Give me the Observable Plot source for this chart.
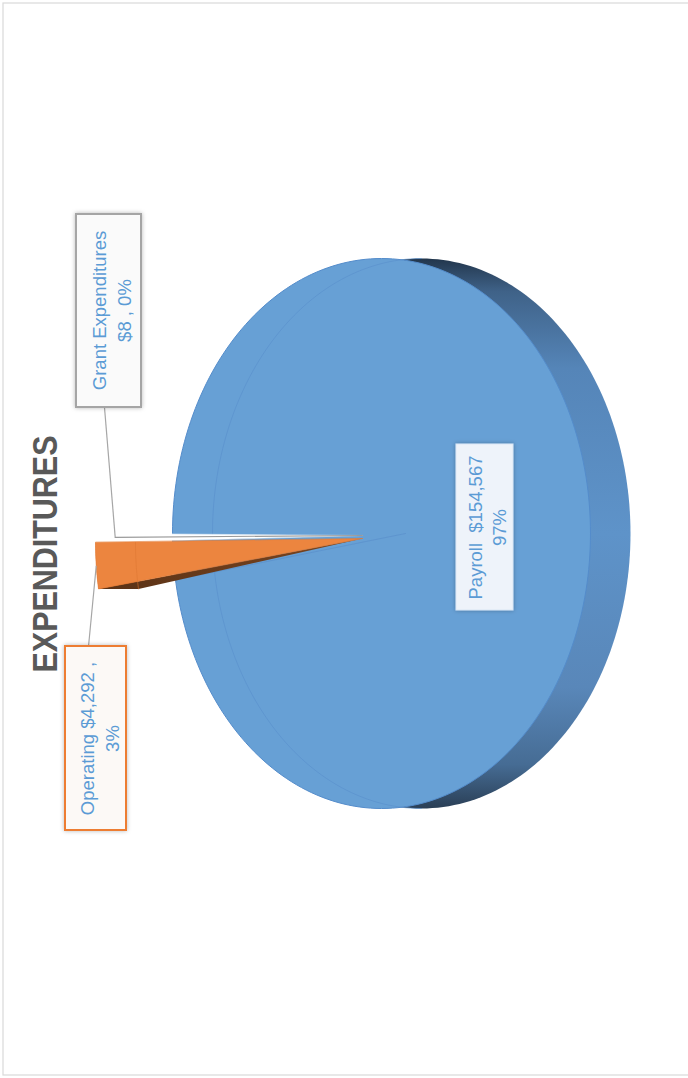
<!DOCTYPE html>
<html>
<head>
<meta charset="utf-8">
<script src="https://cdn.jsdelivr.net/npm/d3@7"></script>
<script src="https://cdn.jsdelivr.net/npm/@observablehq/plot@0.6"></script>
<style>
  html, body { margin: 0; padding: 0; background: #fff; overflow: hidden; }
  #chart svg { display: block; overflow: hidden; }
</style>
</head>
<body>
<div id="chart"></div>
<script>
// ---------------- DATA ----------------
const title = "EXPENDITURES";
const categories = ["Operating", "Grant Expenditures", "Payroll"];
const amounts = [4292, 8, 154567];
const labelLine1 = ["Operating $4,292 ,", "Grant Expenditures", "Payroll  $154,567"];
const labelLine2 = ["3%", "$8 , 0%", "97%"];

// ---------------- LAYOUT / STYLE ----------------
const W = 688, H = 1078;
const C = [381, 533];          // ellipse centre of the pie face
const V = [405, 533];          // apex of the slices on the face
const RX = 209, RY = 275, DEPTH = 40;
const explodeArc  = {"Operating": [-77, 9], "Grant Expenditures": [-75, 0], "Payroll": [0, 0]};
const explodeApex = {"Operating": [-43, 5], "Grant Expenditures": [-43, 2], "Payroll": [0, 0]};
const boxes = [
  {x1: 65, x2: 126, y1: 646, y2: 830, stroke: "#ed7d31", fill: "#fcf9f6", sw: 2, tx: 98,  ty: 738, from: [88, 646]},
  {x1: 76, x2: 141, y1: 214, y2: 407, stroke: "#a5a5a5", fill: "#fafafa", sw: 2, tx: 110, ty: 310, from: [104, 407]},
  {x1: 456, x2: 513, y1: 444, y2: 610, stroke: "#dbe7f5", fill: "#eef3fa", sw: 1, tx: 485.5, ty: 527, from: null}
];

// ---------------- GEOMETRY (from data) ----------------
const total = d3.sum(amounts);
const start = Math.PI - 2 * Math.PI * amounts[0] / total;
const arcs = d3.pie().sort(null).startAngle(start).endAngle(start + 2 * Math.PI)(amounts);
const add = (a, b) => [a[0] + b[0], a[1] + b[1]];
const ept = (c, t) => [c[0] + RX * Math.cos(t), c[1] + RY * Math.sin(t)];
const arcPts = (c, a0, a1, n = 120) => d3.range(n + 1).map(i => ept(c, a0 + (a1 - a0) * i / n));
const lerp = (p, q, k) => [p[0] + (q[0] - p[0]) * k, p[1] + (q[1] - p[1]) * k];

const op = arcs[0], gr = arcs[1], pay = arcs[2];
const Co = add(C, explodeArc["Operating"]), Vo = add(V, explodeApex["Operating"]);
const Cg = add(C, explodeArc["Grant Expenditures"]), Vg = add(V, explodeApex["Grant Expenditures"]);
const back = [DEPTH, 0];

const backEllipse = arcPts(add(C, back), 0, 2 * Math.PI, 240);
const frontEllipse = arcPts(C, 0, 2 * Math.PI, 240);
const backLeftOutline = arcPts(add(C, back), Math.PI / 2, 3 * Math.PI / 2, 120);
const payEdge = [V, ept(C, pay.endAngle - 2 * Math.PI)];

const opFace = [Vo, ...arcPts(Co, op.startAngle, op.endAngle, 30)];
const opPo = ept(Co, op.startAngle);
const opWall = [Vo, opPo, add(opPo, back)];
const opBackArc = arcPts(add(Co, back), op.startAngle, op.endAngle, 30);
const opRim = [...arcPts(Co, op.startAngle, op.endAngle, 30), ...opBackArc.slice().reverse()];

const grTop = ept(Cg, (gr.startAngle + gr.endAngle) / 2);
const grGap = [Vg, grTop, ept(Co, op.endAngle)];
const grMid = lerp(grTop, ept(Co, op.endAngle), 0.45);
const grTip = lerp(grMid, Vg, 0.07);
const grLine = [grTip, Vg];

const opTip = ept(Co, (op.startAngle + op.endAngle) / 2);
const leaders = [
  {x1: boxes[0].from[0], y1: boxes[0].from[1], x2: opTip[0], y2: opTip[1]},
  {x1: boxes[1].from[0], y1: boxes[1].from[1], x2: grTip[0], y2: grTip[1]}
];

const labels = categories.map((c, i) => ({
  text: labelLine1[i] + "\n" + labelLine2[i], x: boxes[i].tx, y: boxes[i].ty
}));

// ---------------- MARKS ----------------
const poly = (pts, o) => Plot.line(pts, {x: d => d[0], y: d => d[1], curve: "linear-closed", ...o});
const path = (pts, o) => Plot.line(pts, {x: d => d[0], y: d => d[1], ...o});

function defs() {
  const g = document.createElementNS("http://www.w3.org/2000/svg", "g");
  g.innerHTML = `<defs>
    <linearGradient id="rimGrad" gradientUnits="userSpaceOnUse" x1="0" y1="${C[1] - RY}" x2="0" y2="${C[1] + RY}">
      <stop offset="0" stop-color="#22364c"/>
      <stop offset="0.06" stop-color="#3f6288"/>
      <stop offset="0.2" stop-color="#5585b8"/>
      <stop offset="0.5" stop-color="#5e93c9"/>
      <stop offset="0.78" stop-color="#5987b9"/>
      <stop offset="0.92" stop-color="#466c94"/>
      <stop offset="1" stop-color="#2a3f56"/>
    </linearGradient>
    <linearGradient id="brownGrad" gradientUnits="userSpaceOnUse" x1="100" y1="0" x2="360" y2="0">
      <stop offset="0" stop-color="#5a3216"/>
      <stop offset="1" stop-color="#7a4622"/>
    </linearGradient>
    <filter id="boxShadow" x="-30%" y="-30%" width="160%" height="160%">
      <feDropShadow dx="0" dy="0" stdDeviation="2.2" flood-color="#000" flood-opacity="0.28"/>
    </filter>
  </defs>`;
  return g;
}

const chart = Plot.plot({
  width: W, height: H, margin: 0,
  x: {domain: [0, W], range: [0, W], axis: null},
  y: {domain: [0, H], range: [0, H], axis: null},
  style: {background: "#ffffff", fontFamily: "'Liberation Sans', Arial, sans-serif"},
  marks: [
    defs,
    Plot.frame({stroke: "#d9d9d9", strokeWidth: 1.2, insetTop: 2.5, insetLeft: 2.5, insetBottom: 3.5, insetRight: -10}),
    // blue pie: rim (back face) and top face
    poly(backEllipse, {fill: "url(#rimGrad)", stroke: "none"}),
    poly(frontEllipse, {fill: "#67a0d5", stroke: "#548ccb", strokeWidth: 1}),
    path(backLeftOutline, {stroke: "#5a90cc", strokeWidth: 0.9, strokeOpacity: 0.7}),
    path(payEdge, {stroke: "#5a8fcc", strokeWidth: 0.9, strokeOpacity: 0.8}),
    // grant slice (white sliver)
    poly(grGap, {fill: "#ffffff", stroke: "#ffffff", strokeWidth: 0.5}),
    path(grLine, {stroke: "#9a9a9a", strokeWidth: 1.1}),
    // operating slice
    poly(opRim, {fill: "#e9823c", stroke: "none"}),
    poly(opWall, {fill: "url(#brownGrad)", stroke: "none"}),
    poly(opFace, {fill: "#ec853f", stroke: "#e07a35", strokeWidth: 0.6}),
    path(opBackArc, {stroke: "#dd7632", strokeWidth: 0.8, strokeOpacity: 0.7}),
    // leader lines
    Plot.link(leaders, {x1: "x1", y1: "y1", x2: "x2", y2: "y2", stroke: "#a6a6a6", strokeWidth: 1.2}),
    // label boxes
    Plot.rect(boxes, {x1: "x1", x2: "x2", y1: "y1", y2: "y2", fill: "fill", stroke: "stroke", strokeWidth: "sw"}),
    Plot.text(labels, {x: "x", y: "y", text: "text", rotate: -90, fontSize: 18.5, lineHeight: 1.35,
      fill: "#5b9bd5", textAnchor: "middle", lineAnchor: "middle"}),
    // title
    Plot.text([title], {x: 45.5, y: 553.5, text: d => d, rotate: -90, fontSize: 35, fontWeight: "bold",
      fill: "#595959", textAnchor: "middle", lineAnchor: "middle"})
  ]
});

// explicit colour channels for box fill/stroke are literal colours -> identity
d3.select(chart).selectAll('g[aria-label="rect"]').attr("filter", "url(#boxShadow)");
d3.select(chart).selectAll("text").filter(function () { return this.textContent === title; })
  .attr("textLength", 237).attr("lengthAdjust", "spacingAndGlyphs");

document.getElementById("chart").appendChild(chart);
</script>
</body>
</html>
